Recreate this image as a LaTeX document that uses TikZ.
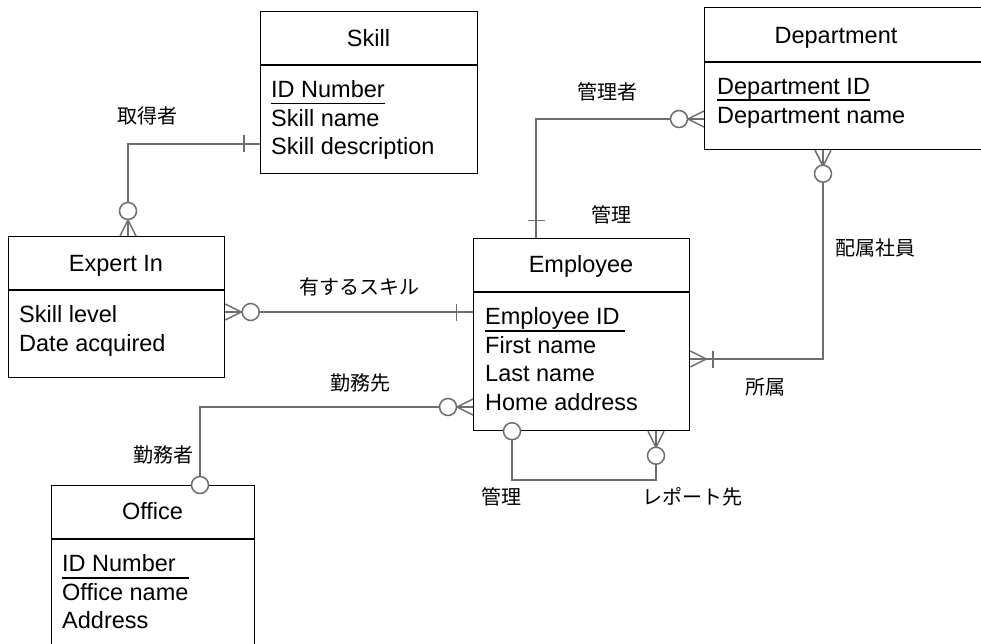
\documentclass[tikz,border=0pt]{standalone}
\usepackage{fontspec}
\setmainfont{Liberation Sans}
\newfontfamily\jpfont{Noto Sans CJK JP}
\usetikzlibrary{calc}
\definecolor{conngray}{HTML}{6E6E6E}
\newcommand\entfont{\fontsize{23.5}{28}\selectfont}
\newcommand\lblfont{\jpfont\fontsize{20}{24}\selectfont}
% crow's foot (many) at an edge point, pointing away from the box
\newcommand\cfcrow[2]{\begin{scope}[shift={(#1)},rotate=#2]
  \draw[conn] (0,8) -- (16,0) -- (0,-8) (0,0) -- (16,0);
\end{scope}}
% ring (zero) at distance #3 from the edge point
\newcommand\cfring[3]{\begin{scope}[shift={(#1)},rotate=#2]
  \draw[conn,fill=white] (#3,0) circle[radius=8.5pt];
\end{scope}}
% bar (one) at distance #3 from the edge point
\newcommand\cfbar[3]{\begin{scope}[shift={(#1)},rotate=#2]
  \draw[conn] (#3,-8.5) -- (#3,8.5);
\end{scope}}
\begin{document}
\begin{tikzpicture}[x=1pt,y=-1pt,
  ebox/.style={draw=black,line width=1.2pt,fill=white,inner sep=0,anchor=north west},
  divline/.style={draw=black,line width=1.2pt},
  etitle/.style={inner sep=0,anchor=base,font=\entfont},
  attr/.style={inner sep=0,anchor=base west,font=\entfont},
  keyline/.style={draw=black,line width=1.6pt},
  conn/.style={draw=conngray,line width=1.5pt},
  rlabel/.style={inner sep=0,font=\lblfont}]
\useasboundingbox (0,0) rectangle (981,644);
\clip (0,0) rectangle (981,644);
\fill[white] (0,0) rectangle (981,644);

% ---------- entities ----------
\node[ebox,minimum width=217pt,minimum height=162pt] (skill) at (260,11) {};
\draw[divline] (skill.west |- 0,65) -- (skill.east |- 0,65);
\node[etitle] (skillT) at (368.5,46.7) {Skill};
\node[attr] (skillK) at (271,97.7) {ID Number};
\node[attr] (skillA) at (271,126.3) {Skill name};
\node[attr] (skillB) at (271,155) {Skill description};
\draw[keyline] ([yshift=-5.8pt]skillK.base west) -- ([yshift=-5.8pt]skillK.base east);

\node[ebox,minimum width=216pt,minimum height=141pt] (expert) at (8,236) {};
\draw[divline] (expert.west |- 0,290) -- (expert.east |- 0,290);
\node[etitle] (expertT) at (116,271.7) {Expert In};
\node[attr] (expertA) at (19,322.7) {Skill level};
\node[attr] (expertB) at (19,351) {Date acquired};

\node[ebox,minimum width=216pt,minimum height=192pt] (employee) at (473,238) {};
\draw[divline] (employee.west |- 0,292) -- (employee.east |- 0,292);
\node[etitle] (employeeT) at (581,272.7) {Employee};
\node[attr] (employeeK) at (485,324.3) {Employee ID};
\node[attr] (employeeA) at (485,353) {First name};
\node[attr] (employeeB) at (485,381.5) {Last name};
\node[attr] (employeeC) at (485,410) {Home address};
\draw[keyline] ([yshift=-6.5pt]employeeK.base west) -- ([xshift=5pt,yshift=-6.5pt]employeeK.base east);

\node[ebox,minimum width=290pt,minimum height=142pt] (dept) at (704,7) {};
\draw[divline] (dept.west |- 0,62) -- (dept.east |- 0,62);
\node[etitle] (deptT) at (836,43.3) {Department};
\node[attr] (deptK) at (717,95) {Department ID};
\node[attr] (deptA) at (717,123.5) {Department name};
\draw[keyline] ([yshift=-5.2pt]deptK.base west) -- ([yshift=-5.2pt]deptK.base east);

\node[ebox,minimum width=203pt,minimum height=180pt] (office) at (51,485) {};
\draw[divline] (office.west |- 0,539) -- (office.east |- 0,539);
\node[etitle] (officeT) at (152.5,519.3) {Office};
\node[attr] (officeK) at (62,571.7) {ID Number};
\node[attr] (officeA) at (62,600) {Office name};
\node[attr] (officeB) at (62,628.3) {Address};
\draw[keyline] ([yshift=-6.3pt]officeK.base west) -- ([xshift=13pt,yshift=-6.3pt]officeK.base east);

% ---------- connectors ----------
% Skill -- Expert In
\draw[conn] (skill.west |- 0,144) -| (expert.north -| 128,0);
\cfbar{skill.west |- 0,144}{180}{16}
\cfcrow{expert.north -| 128,0}{90}
\cfring{expert.north -| 128,0}{90}{25}

% Expert In -- Employee
\draw[conn] (expert.east |- 0,312) -- (employee.west |- 0,312);
\cfcrow{expert.east |- 0,312}{0}
\cfring{expert.east |- 0,312}{0}{25.5}
\cfbar{employee.west |- 0,312}{180}{16.5}

% Employee -- Office
\draw[conn] (employee.west |- 0,407) -| (office.north -| 200,0);
\cfcrow{employee.west |- 0,407}{180}
\cfring{employee.west |- 0,407}{180}{25}
\cfring{office.north -| 200,0}{0}{0}

% Employee self relation
\draw[conn] (employee.south -| 512,0) -- ++(0,49) -| (employee.south -| 656,0);
\cfring{employee.south -| 512,0}{0}{0}
\cfcrow{employee.south -| 656,0}{270}
\cfring{employee.south -| 656,0}{270}{24.5}

% Employee -- Department (manager)
\draw[conn] (employee.north -| 536,0) |- (dept.west |- 0,119);
\cfbar{employee.north -| 536,0}{90}{17.5}
\cfcrow{dept.west |- 0,119}{180}
\cfring{dept.west |- 0,119}{180}{25}

% Department -- Employee (members)
\draw[conn] (dept.south -| 823,0) |- (employee.east |- 0,359);
\cfcrow{dept.south -| 823,0}{270}
\cfring{dept.south -| 823,0}{270}{23.5}
\cfcrow{employee.east |- 0,359}{0}
\cfbar{employee.east |- 0,359}{0}{22.7}

% ---------- labels ----------
\node[rlabel] (l1) at (147.5,115.5) {取得者};
\node[rlabel] (l2) at (607.5,92) {管理者};
\node[rlabel] (l3) at (611,215) {管理};
\node[rlabel] (l4) at (359,287) {有するスキル};
\node[rlabel] (l5) at (360,383) {勤務先};
\node[rlabel] (l6) at (163,455) {勤務者};
\node[rlabel] (l7) at (875,247.5) {配属社員};
\node[rlabel] (l8) at (765,387) {所属};
\node[rlabel] (l9) at (501,497) {管理};
\node[rlabel] (l10) at (692,497) {レポート先};
\end{tikzpicture}
\end{document}
